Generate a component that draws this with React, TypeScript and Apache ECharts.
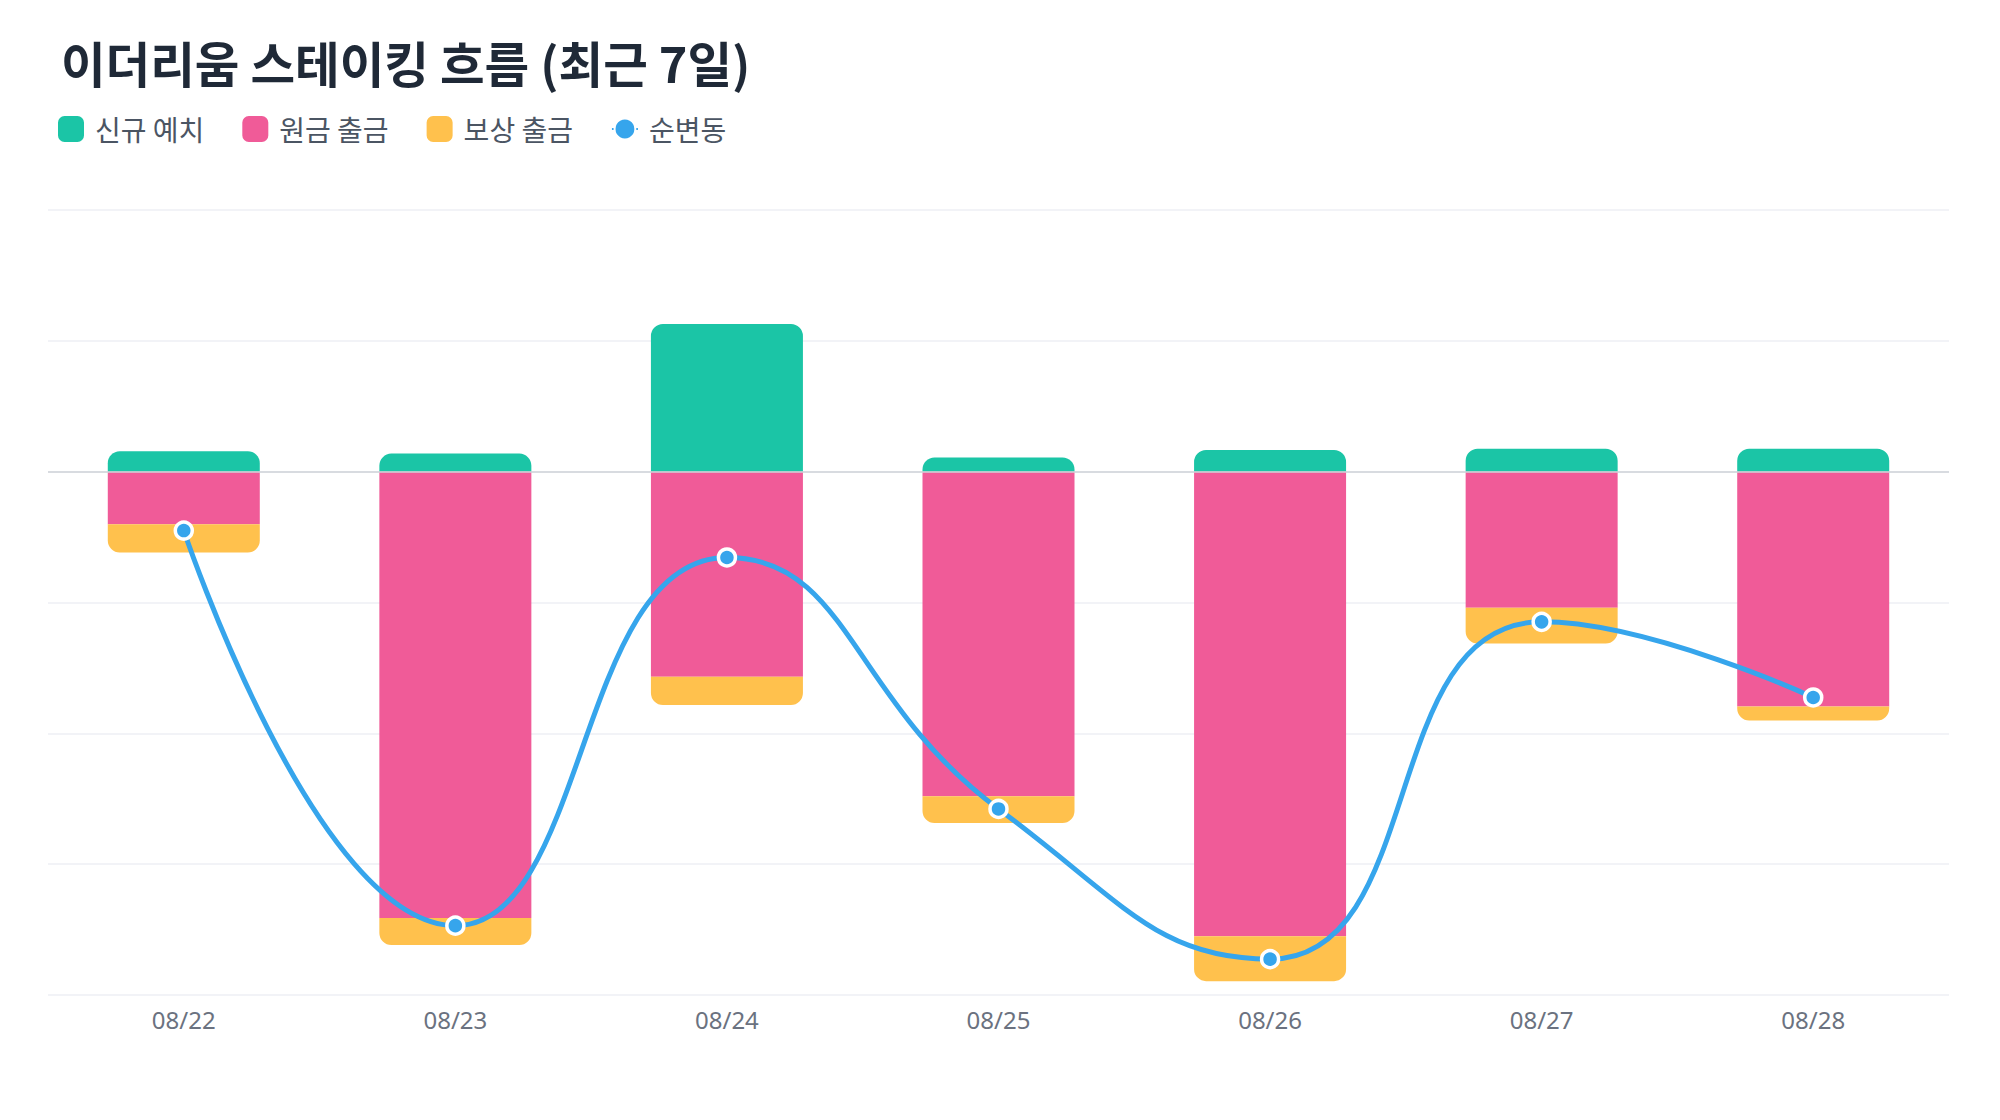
import React, { useEffect, useRef } from "react";
import * as echarts from "echarts";

const TITLE = "이더리움 스테이킹 흐름 (최근 7일)";
const categories = ["08/22", "08/23", "08/24", "08/25", "08/26", "08/27", "08/28"];
// units: thousand ETH (axis labels hidden in the reference)
const deposits = [7.8, 6.9, 56.4, 5.4, 8.3, 8.8, 8.8];
const principalWithdrawals = [-20.1, -170.6, -78.4, -124.0, -177.5, -52.0, -89.7];
const rewardWithdrawals = [-10.8, -10.3, -10.8, -10.3, -17.2, -13.7, -5.4];
const netChange = [-22.5, -173.5, -32.8, -128.9, -186.3, -57.4, -86.3];
const seriesNames = ["신규 예치", "원금 출금", "보상 출금", "순변동"];

const FONT = "'Noto Sans CJK KR', 'Noto Sans', sans-serif";

export default function App() {
  const ref = useRef<HTMLDivElement>(null);
  useEffect(() => {
    if (!ref.current) return;
    const chart = echarts.init(ref.current, undefined, { renderer: "svg" });
    chart.setOption({
      animation: false,
      backgroundColor: "#ffffff",
      textStyle: { fontFamily: FONT },
      title: {
        text: TITLE,
        left: 56,
        top: 33,
        textStyle: { fontSize: 48.5, fontWeight: "bold", color: "#1f2937", fontFamily: FONT },
      },
      legend: {
        left: 53,
        top: 110,
        itemWidth: 26,
        itemHeight: 26,
        itemGap: 38,
        textStyle: { fontSize: 28, color: "#4b5563", fontFamily: FONT, padding: [0, 0, 0, 6] },
        data: [
          { name: seriesNames[0], icon: "roundRect" },
          { name: seriesNames[1], icon: "roundRect" },
          { name: seriesNames[2], icon: "roundRect" },
          { name: seriesNames[3] },
        ],
      },
      grid: { left: 48, right: 51, top: 210, bottom: 125 },
      xAxis: {
        type: "category",
        data: categories,
        axisLine: { show: false },
        axisTick: { show: false },
        axisLabel: { fontSize: 24, color: "#6b7280", margin: 12, fontFamily: "'Noto Sans', sans-serif" },
        splitLine: { show: false },
      },
      yAxis: {
        type: "value",
        min: -200,
        max: 100,
        interval: 50,
        axisLabel: { show: false },
        axisLine: { show: false },
        axisTick: { show: false },
        splitLine: { lineStyle: { color: "#eeeff4", width: 1.5 } },
      },
      series: [
        {
          name: seriesNames[0],
          type: "bar",
          stack: "flow",
          barWidth: 152,
          data: deposits,
          itemStyle: { color: "#1bc5a6", borderRadius: [12, 12, 0, 0] },
          markLine: {
            silent: true,
            symbol: "none",
            label: { show: false },
            lineStyle: { color: "#cfd3d9", type: "solid", width: 1.5 },
            data: [{ yAxis: 0 }],
            z: 5,
          },
        },
        {
          name: seriesNames[1],
          type: "bar",
          stack: "flow",
          barWidth: 152,
          data: principalWithdrawals,
          itemStyle: { color: "#f05b98", borderRadius: 0 },
        },
        {
          name: seriesNames[2],
          type: "bar",
          stack: "flow",
          barWidth: 152,
          data: rewardWithdrawals,
          itemStyle: { color: "#ffc14d", borderRadius: [0, 0, 12, 12] },
        },
        {
          name: seriesNames[3],
          type: "line",
          data: netChange,
          smooth: 0.5,
          z: 10,
          symbol: "circle",
          symbolSize: 17,
          lineStyle: { color: "#36a5ec", width: 5 },
          itemStyle: { color: "#36a5ec", borderColor: "#ffffff", borderWidth: 3.5 },
        },
      ],
    });
    return () => chart.dispose();
  }, []);
  return (
    <div
      ref={ref}
      style={{ position: "absolute", left: 0, top: 0, width: 2000, height: 1120 }}
    />
  );
}
